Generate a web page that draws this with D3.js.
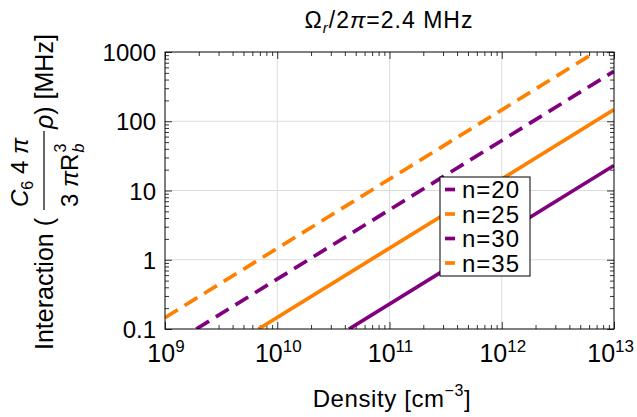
<!DOCTYPE html>
<html>
<head>
<meta charset="utf-8">
<script src="https://cdn.jsdelivr.net/npm/d3@7"></script>
<style>
  body { margin: 0; background: #fff; }
  svg { font-family: "Liberation Sans", Arial, sans-serif; }
</style>
</head>
<body>
<div id="chart"></div>
<script>
// values (lines are straight on log-log axes)
const seriesNames = ["n=20", "n=25", "n=30", "n=35"];
const densityStart = [4.36e10, 6.8e9, 1.9e9, 1e9];
const densityEnd = [1e13, 1e13, 1e13, 6.85e12];
const interactionStart = [0.1, 0.1, 0.1, 0.146];
const interactionEnd = [23, 147, 527, 1000];
const xTickExponents = [9, 10, 11, 12, 13];
const yTickValues = [0.1, 1, 10, 100, 1000];
const yTickLabels = ["0.1", "1", "10", "100", "1000"];

const colors = ["#800080", "#ff8000", "#800080", "#ff8000"];
const dashes = [null, null, "15,8", "15,8"];

const width = 637, height = 417;
const margin = { top: 52, right: 23, bottom: 88, left: 165 };

const svg = d3.select("#chart").append("svg")
  .attr("width", width)
  .attr("height", height);

const x = d3.scaleLog()
  .domain([1e9, 1e13])
  .range([margin.left, width - margin.right]);

const y = d3.scaleLog()
  .domain([0.1, 1000])
  .range([height - margin.bottom, margin.top]);

const x0 = x.range()[0], x1 = x.range()[1];
const y0 = y.range()[0], y1 = y.range()[1];

// grid lines at inner decades
svg.append("g").selectAll("line.gx")
  .data(xTickExponents.slice(1, -1))
  .enter().append("line")
  .attr("x1", d => x(Math.pow(10, d))).attr("x2", d => x(Math.pow(10, d)))
  .attr("y1", y0).attr("y2", y1)
  .attr("stroke", "#dcdcdc").attr("stroke-width", 1);

svg.append("g").selectAll("line.gy")
  .data(yTickValues.slice(1, -1))
  .enter().append("line")
  .attr("y1", d => y(d)).attr("y2", d => y(d))
  .attr("x1", x0).attr("x2", x1)
  .attr("stroke", "#dcdcdc").attr("stroke-width", 1);

// ticks on all four sides, pointing inward
const xMinor = [];
for (let e = 9; e < 13; e++) for (let m = 2; m <= 9; m++) xMinor.push(m * Math.pow(10, e));
const yMinor = [];
for (let e = -1; e < 3; e++) for (let m = 2; m <= 9; m++) yMinor.push(m * Math.pow(10, e));

const axisBottom = d3.axisBottom(x).tickValues(xMinor).tickSize(-4).tickFormat("");
const axisTop = d3.axisTop(x).tickValues(xMinor).tickSize(-4).tickFormat("");
const axisLeft = d3.axisLeft(y).tickValues(yMinor).tickSize(-4).tickFormat("");
const axisRight = d3.axisRight(y).tickValues(yMinor).tickSize(-4).tickFormat("");
const majX = xTickExponents.map(e => Math.pow(10, e));

svg.append("g").attr("transform", `translate(0,${y0})`).call(axisBottom);
svg.append("g").attr("transform", `translate(0,${y1})`).call(axisTop);
svg.append("g").attr("transform", `translate(${x0},0)`).call(axisLeft);
svg.append("g").attr("transform", `translate(${x1},0)`).call(axisRight);
svg.append("g").attr("transform", `translate(0,${y0})`)
  .call(d3.axisBottom(x).tickValues(majX).tickSize(-7).tickFormat(""));
svg.append("g").attr("transform", `translate(0,${y1})`)
  .call(d3.axisTop(x).tickValues(majX).tickSize(-7).tickFormat(""));
svg.append("g").attr("transform", `translate(${x0},0)`)
  .call(d3.axisLeft(y).tickValues(yTickValues).tickSize(-7).tickFormat(""));
svg.append("g").attr("transform", `translate(${x1},0)`)
  .call(d3.axisRight(y).tickValues(yTickValues).tickSize(-7).tickFormat(""));

svg.selectAll(".domain").remove();
svg.selectAll(".tick line").attr("stroke", "#000").attr("stroke-width", 0.8);

// clip + series lines
svg.append("clipPath").attr("id", "plot-clip")
  .append("rect")
  .attr("x", x0).attr("y", y1)
  .attr("width", x1 - x0).attr("height", y0 - y1);

const lineGen = d3.line().x(d => x(d[0])).y(d => y(d[1]));

svg.append("g").attr("clip-path", "url(#plot-clip)")
  .selectAll("path")
  .data(seriesNames.map((n, i) => [[densityStart[i], interactionStart[i]], [densityEnd[i], interactionEnd[i]]]))
  .enter().append("path")
  .attr("d", lineGen)
  .attr("fill", "none")
  .attr("stroke", (d, i) => colors[i])
  .attr("stroke-width", 3.7)
  .attr("stroke-dasharray", (d, i) => dashes[i]);

// frame
svg.append("rect")
  .attr("x", x0).attr("y", y1)
  .attr("width", x1 - x0).attr("height", y0 - y1)
  .attr("fill", "none").attr("stroke", "#000").attr("stroke-width", 1);

// tick labels
svg.append("g").selectAll("text")
  .data(yTickValues)
  .enter().append("text")
  .attr("x", x0 - 9)
  .attr("y", d => y(d))
  .attr("dy", "0.38em")
  .attr("text-anchor", "end")
  .attr("font-size", 24)
  .text((d, i) => yTickLabels[i]);

const last = xTickExponents[xTickExponents.length - 1];
const xl = svg.append("g").selectAll("text")
  .data(xTickExponents)
  .enter().append("text")
  .attr("x", d => d === last ? width - 3 : x(Math.pow(10, d)) + 1)
  .attr("y", 362)
  .attr("text-anchor", d => d === last ? "end" : "middle")
  .attr("font-size", 25);
xl.append("tspan").text("10");
xl.append("tspan").attr("font-size", 17).attr("dy", -10).text(d => d);

// legend
const legend = svg.append("g");
legend.append("rect")
  .attr("x", 440).attr("y", 177)
  .attr("width", 90).attr("height", 99)
  .attr("fill", "#fff").attr("stroke", "#000").attr("stroke-width", 1);
const rows = legend.selectAll("g.row")
  .data(seriesNames)
  .enter().append("g")
  .attr("transform", (d, i) => `translate(0,${189.5 + i * 24.5})`);
rows.append("line")
  .attr("x1", 445).attr("x2", 455)
  .attr("stroke", (d, i) => colors[i])
  .attr("stroke-width", 3.7);
rows.append("text")
  .attr("x", 462).attr("dy", "0.37em")
  .attr("font-size", 24)
  .attr("letter-spacing", 1)
  .text(d => d);

// title
const title = svg.append("text")
  .attr("x", 389).attr("y", 28)
  .attr("text-anchor", "middle")
  .attr("font-size", 23)
  .attr("letter-spacing", 1);
title.append("tspan").text("Ω");
title.append("tspan").attr("font-size", 15).attr("font-style", "italic").attr("dy", 5).text("r");
title.append("tspan").attr("dy", -5).text("/2");
title.append("tspan").attr("font-style", "italic").text("π");
title.append("tspan").text("=2.4 MHz");

// x axis title
const xt = svg.append("text")
  .attr("x", 392).attr("y", 407)
  .attr("text-anchor", "middle")
  .attr("font-size", 24)
  .attr("letter-spacing", 0.6);
xt.append("tspan").text("Density [cm");
xt.append("tspan").attr("font-size", 16).attr("dy", -11).text("−3");
xt.append("tspan").attr("dy", 11).text("]");

// y axis title, built in rotated coordinates
const yt = svg.append("g").attr("transform", "translate(53,350) rotate(-90)");
yt.append("text").attr("x", 0).attr("y", 0).attr("font-size", 25).text("Interaction (");
yt.append("line")
  .attr("x1", 140).attr("x2", 219).attr("y1", -9).attr("y2", -9)
  .attr("stroke", "#000").attr("stroke-width", 1.2);

const num = yt.append("text").attr("x", 143).attr("y", -25).attr("font-size", 24);
num.append("tspan").attr("font-style", "italic").text("C");
num.append("tspan").attr("font-size", 16).attr("dy", 5).text("6");
num.append("tspan").attr("dy", -5).text(" 4 ");
num.append("tspan").attr("font-style", "italic").text("π");

const den = yt.append("text").attr("x", 143).attr("y", 25).attr("font-size", 24);
den.append("tspan").text("3 ");
den.append("tspan").attr("font-style", "italic").text("π");
den.append("tspan").text("R");
const denEnd = 143 + den.node().getComputedTextLength() + 1;
yt.append("text").attr("x", denEnd).attr("y", 13).attr("font-size", 16).text("3");
yt.append("text").attr("x", denEnd).attr("y", 31).attr("font-size", 16)
  .attr("font-style", "italic").text("b");

const tail = yt.append("text").attr("x", 221).attr("y", 0).attr("font-size", 25);
tail.append("tspan").attr("font-style", "italic").text("ρ");
tail.append("tspan").text(") [MHz]");
</script>
</body>
</html>
